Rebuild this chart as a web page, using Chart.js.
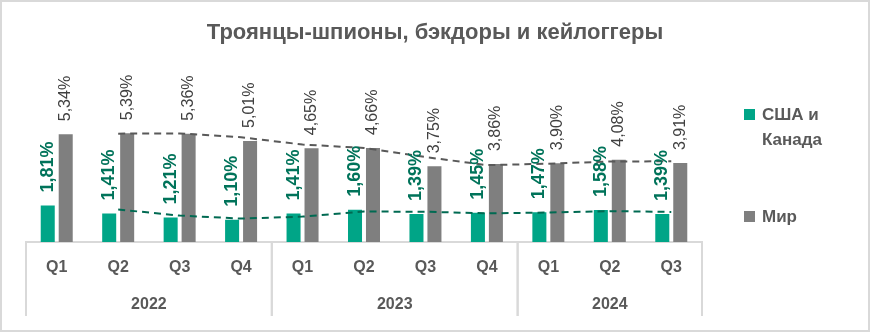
<!DOCTYPE html>
<html>
<head>
<meta charset="utf-8">
<script src="https://cdn.jsdelivr.net/npm/chart.js@4.4.0/dist/chart.umd.min.js"></script>
<style>
  html, body { margin: 0; padding: 0; background: #fff; }
  #wrap { width: 870px; height: 332px; position: relative; }
</style>
</head>
<body>
<div id="wrap"><canvas id="myChart" width="870" height="332"></canvas></div>
<script>
const quarters = ['Q1', 'Q2', 'Q3', 'Q4', 'Q1', 'Q2', 'Q3', 'Q4', 'Q1', 'Q2', 'Q3'];
const years = ['2022', '2023', '2024'];
const quartersPerYear = [4, 4, 3];
const usaCanada = [1.81, 1.41, 1.21, 1.10, 1.41, 1.60, 1.39, 1.45, 1.47, 1.58, 1.39];
const world = [5.34, 5.39, 5.36, 5.01, 4.65, 4.66, 3.75, 3.86, 3.90, 4.08, 3.91];
// dashed trend lines (2-quarter moving average)
const usaCanadaTrend = [null, 1.61, 1.31, 1.16, 1.26, 1.51, 1.50, 1.42, 1.46, 1.53, 1.49];
const worldTrend = [null, 5.37, 5.38, 5.19, 4.83, 4.66, 4.21, 3.81, 3.88, 3.99, 4.00];

const FONT = "'Liberation Sans', Arial, sans-serif";
const GREEN = '#00a587';
const GREY = '#7f7f7f';
const TEXT = '#595959';

const labelStyles = [
  { font: 'bold 18px ' + FONT, color: '#00735a' },
  { font: '16px ' + FONT, color: '#404040' }
];

function fmt(v) {
  return v.toFixed(2).replace('.', ',') + '%';
}

// value labels above the bars, rotated
const barLabels = {
  id: 'barLabels',
  afterDatasetsDraw(chart) {
    const ctx = chart.ctx;
    [0, 1].forEach(di => {
      const meta = chart.getDatasetMeta(di);
      const st = labelStyles[di];
      meta.data.forEach((bar, i) => {
        const v = chart.data.datasets[di].data[i];
        ctx.save();
        ctx.translate(bar.x, bar.y - 13);
        ctx.rotate(-Math.PI / 2);
        ctx.font = st.font;
        ctx.fillStyle = st.color;
        ctx.textAlign = 'left';
        ctx.textBaseline = 'middle';
        ctx.fillText(fmt(v), 0, 0);
        ctx.restore();
      });
    });
  }
};

// year row under the quarters + group separators
const yearAxis = {
  id: 'yearAxis',
  afterDraw(chart) {
    const ctx = chart.ctx;
    const x = chart.scales.x;
    const area = chart.chartArea;
    const n = quarters.length;
    const bottom = area.bottom + 74;
    ctx.save();
    ctx.strokeStyle = '#d9d9d9';
    ctx.lineWidth = 2;
    ctx.font = 'bold 16px ' + FONT;
    ctx.fillStyle = TEXT;
    ctx.textAlign = 'center';
    ctx.textBaseline = 'middle';
    let start = 0;
    years.forEach((y, k) => {
      const end = start + quartersPerYear[k] - 1;
      const left = start === 0 ? area.left : (x.getPixelForValue(start - 1) + x.getPixelForValue(start)) / 2;
      const right = end === n - 1 ? area.right : (x.getPixelForValue(end) + x.getPixelForValue(end + 1)) / 2;
      [left, right].forEach(px => {
        ctx.beginPath();
        ctx.moveTo(px, area.bottom);
        ctx.lineTo(px, bottom);
        ctx.stroke();
      });
      ctx.fillText(y, (left + right) / 2, area.bottom + 63);
      start = end + 1;
    });
    ctx.restore();
  }
};

// legend on the right, with wrapped text
const sideLegend = {
  id: 'sideLegend',
  afterDraw(chart) {
    const ctx = chart.ctx;
    const items = [
      { color: GREEN, lines: ['США и', 'Канада'], y: 115 },
      { color: GREY, lines: ['Мир'], y: 217 }
    ];
    ctx.save();
    ctx.font = 'bold 17px ' + FONT;
    ctx.textAlign = 'left';
    ctx.textBaseline = 'middle';
    items.forEach(it => {
      ctx.fillStyle = it.color;
      ctx.fillRect(744, it.y - 6, 11, 11);
      ctx.fillStyle = TEXT;
      it.lines.forEach((t, j) => ctx.fillText(t, 762, it.y + j * 25));
    });
    ctx.restore();
  }
};

// light frame round the whole chart
const frame = {
  id: 'frame',
  afterDraw(chart) {
    const ctx = chart.ctx;
    ctx.save();
    ctx.strokeStyle = '#d9d9d9';
    ctx.lineWidth = 2;
    ctx.strokeRect(1, 1, chart.width - 2, chart.height - 2);
    ctx.restore();
  }
};

// empty side axes keep room for the plot margins and the legend
const blankAxis = (position, width) => ({
  position,
  display: true,
  min: 0,
  max: 9,
  grid: { display: false, drawTicks: false },
  border: { display: false },
  ticks: { display: false },
  afterFit(scale) { scale.width = width; }
});

const ctx = document.getElementById('myChart').getContext('2d');
new Chart(ctx, {
  type: 'bar',
  data: {
    labels: quarters,
    datasets: [
      {
        label: 'США и Канада',
        data: usaCanada,
        backgroundColor: GREEN,
        barPercentage: 0.78,
        categoryPercentage: 0.585
      },
      {
        label: 'Мир',
        data: world,
        backgroundColor: GREY,
        barPercentage: 0.78,
        categoryPercentage: 0.585
      },
      {
        type: 'line',
        data: usaCanadaTrend,
        borderColor: '#006a52',
        borderWidth: 2,
        borderDash: [7, 5],
        pointRadius: 0,
        fill: false,
        order: -1
      },
      {
        type: 'line',
        data: worldTrend,
        borderColor: '#595959',
        borderWidth: 2,
        borderDash: [7, 5],
        pointRadius: 0,
        fill: false,
        order: -1
      }
    ]
  },
  options: {
    responsive: false,
    animation: false,
    layout: { padding: 0 },
    plugins: {
      legend: { display: false },
      tooltip: { enabled: false },
      title: {
        display: true,
        text: 'Троянцы-шпионы, бэкдоры и кейлоггеры',
        color: TEXT,
        font: { family: FONT, size: 22, weight: 'bold' },
        padding: { top: 20, bottom: 14 }
      }
    },
    scales: {
      x: {
        grid: { display: false, drawTicks: false },
        border: { color: '#d9d9d9', width: 2 },
        ticks: { color: TEXT, font: { family: FONT, size: 16, weight: 'bold' }, padding: 16 },
        afterFit(scale) { scale.height = 90; }
      },
      y: blankAxis('left', 26),
      yRight: blankAxis('right', 168)
    }
  },
  plugins: [barLabels, yearAxis, sideLegend, frame]
});
</script>
</body>
</html>
